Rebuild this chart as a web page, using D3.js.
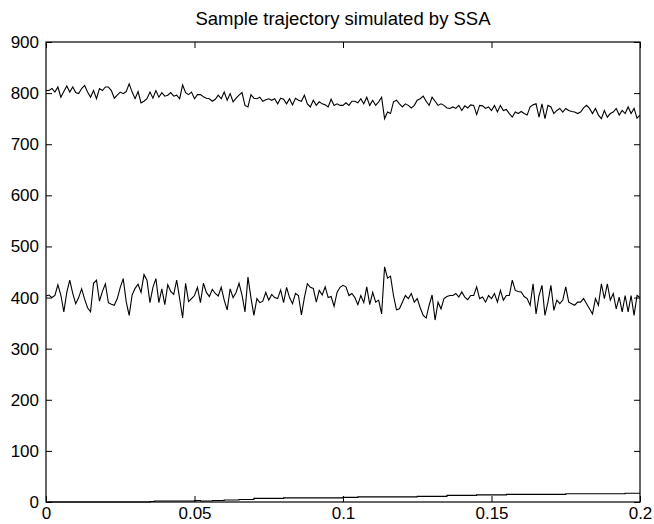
<!DOCTYPE html>
<html><head><meta charset="utf-8">
<script src="https://cdn.jsdelivr.net/npm/d3@7/dist/d3.min.js"></script>
<style>body{margin:0;background:#fff}svg{display:block}text{font-family:"Liberation Sans",Arial,sans-serif}</style>
</head><body><svg id="c" width="654" height="524"></svg>
<script>
const titleText = "Sample trajectory simulated by SSA";
const xTicks = [0, 0.05, 0.1, 0.15, 0.2];
const xTickLabels = ["0", "0.05", "0.1", "0.15", "0.2"];
const yTicks = [0, 100, 200, 300, 400, 500, 600, 700, 800, 900];
const sampleStep = 0.001;
const upperSeries = [805,805,809,802,812,792,803,814,802,812,801,799,809,815,802,792,805,789,809,805,
812,812,805,790,796,802,799,803,818,802,789,803,781,784,789,802,790,805,792,801,
794,796,801,794,796,789,816,801,797,802,789,797,797,793,790,789,784,788,796,789,
802,786,799,783,790,796,801,776,773,797,790,789,792,784,787,789,786,789,779,790,
788,779,789,777,790,786,784,796,779,773,786,776,783,779,777,773,788,776,779,776,
776,781,776,784,784,781,789,779,792,776,786,776,783,792,750,763,760,783,786,779,
773,779,776,771,776,786,789,794,784,776,792,784,776,779,776,771,770,773,770,776,
766,775,771,777,776,758,776,775,770,773,766,776,763,776,766,768,760,753,763,760,
764,760,757,773,777,779,753,779,750,776,773,760,766,770,763,770,766,764,763,760,
763,771,776,770,760,770,757,750,766,753,760,763,770,757,766,760,773,760,770,751,757];
const middleSeries = [403,405,400,404,425,405,372,410,434,408,388,400,417,397,380,372,428,434,393,412,
427,390,387,385,398,420,437,392,365,405,418,426,410,445,434,390,420,437,390,417,
386,425,412,406,434,398,360,428,392,398,404,420,390,428,410,402,416,408,403,420,
395,376,417,400,410,428,405,372,440,400,365,398,390,393,410,395,406,400,398,415,
390,420,400,388,408,404,366,400,427,420,418,391,414,405,421,400,402,383,410,420,
424,421,404,408,400,386,404,390,421,386,410,391,395,368,460,438,442,404,376,378,
391,404,398,408,391,398,380,365,360,385,405,356,391,378,398,402,404,404,408,401,
411,401,396,404,404,421,398,401,391,404,398,408,391,414,395,404,404,434,414,412,
411,402,398,385,427,368,404,424,365,391,424,375,395,388,395,421,391,388,385,391,
391,398,388,378,368,398,385,427,398,427,395,408,378,401,372,404,372,404,365,404,400];
const lowerTimes = [0, 0.035, 0.0365, 0.05, 0.052, 0.056, 0.06, 0.065, 0.07, 0.08, 0.09, 0.1, 0.105, 0.115, 0.125, 0.135, 0.145, 0.155, 0.165, 0.175, 0.185, 0.195, 0.2];
const lowerSeries = [0, 1, 2, 3, 2, 3, 4, 5, 7, 8, 8, 9, 10, 10, 11, 13, 14, 15, 15, 16, 16, 17, 17];

const svg = d3.select("#c");
const m = {l: 46, r: 14, t: 42, b: 22};
const W = 654, H = 524;
const x = d3.scaleLinear().domain([0, 0.2]).range([m.l, W - m.r]);
const y = d3.scaleLinear().domain([0, 900]).range([H - m.b, m.t]);

const toPts = arr => arr.map((v, i) => [i * sampleStep, v]);
const line = d3.line().x(d => x(d[0])).y(d => y(d[1]));

svg.append("path").datum(toPts(upperSeries)).attr("d", line)
  .attr("fill", "none").attr("stroke", "#000").attr("stroke-width", 1.1);
svg.append("path").datum(toPts(middleSeries)).attr("d", line)
  .attr("fill", "none").attr("stroke", "#000").attr("stroke-width", 1.1);
svg.append("path").datum(lowerTimes.map((t, i) => [t, lowerSeries[i]]))
  .attr("d", d3.line().x(d => x(d[0])).y(d => y(d[1])).curve(d3.curveStepAfter))
  .attr("fill", "none").attr("stroke", "#000").attr("stroke-width", 1.1);

svg.append("rect").attr("x", m.l).attr("y", m.t).attr("width", W - m.r - m.l).attr("height", H - m.b - m.t)
  .attr("fill", "none").attr("stroke", "#000").attr("stroke-width", 1.2);

const tl = 6;
const fs = 17;
const axB = d3.axisBottom(x).tickValues(xTicks).tickFormat((d, i) => xTickLabels[i]).tickSizeInner(-tl).tickSizeOuter(0);
const gb = svg.append("g").attr("transform", `translate(0,${H - m.b})`).call(axB);
gb.selectAll("text").attr("y", 17).attr("dy", 0);
const axT = d3.axisTop(x).tickValues(xTicks).tickFormat("").tickSizeInner(-tl).tickSizeOuter(0);
const gt = svg.append("g").attr("transform", `translate(0,${m.t})`).call(axT);
const axL = d3.axisLeft(y).tickValues(yTicks).tickFormat(d3.format("d")).tickSizeInner(-tl).tickSizeOuter(0).tickPadding(7);
const gl = svg.append("g").attr("transform", `translate(${m.l},0)`).call(axL);
const axR = d3.axisRight(y).tickValues(yTicks).tickFormat("").tickSizeInner(-tl).tickSizeOuter(0);
const gr = svg.append("g").attr("transform", `translate(${W - m.r},0)`).call(axR);
[gb, gt, gl, gr].forEach(g => {
  g.select(".domain").remove();
  g.selectAll("text").attr("font-size", fs).attr("fill", "#000").attr("font-family", "'Liberation Sans', Arial, sans-serif");
  g.selectAll("line").attr("stroke", "#000");
});

svg.append("text").attr("x", (m.l + W - m.r) / 2).attr("y", 25).attr("text-anchor", "middle")
  .attr("font-size", 18.5).attr("fill", "#000").text(titleText);
</script></body></html>
